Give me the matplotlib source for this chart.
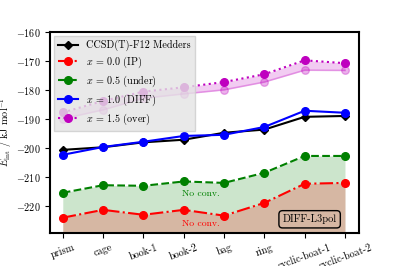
import numpy as np
import matplotlib
matplotlib.use('Agg')
import matplotlib.pyplot as plt

plt.rcParams['font.family'] = 'serif'
plt.rcParams['font.serif'] = ['cmr10']
plt.rcParams['mathtext.fontset'] = 'cm'
plt.rcParams['axes.formatter.use_mathtext'] = True

structures = ['prism', 'cage', 'book-1', 'book-2', 'bag', 'ring', 'cyclic-boat-1', 'cyclic-boat-2']
ref_medders = [-200.7, -199.8, -198.1, -197.2, -194.8, -193.7, -189.3, -189.0]
x_00 = [-224.1, -221.4, -223.1, -221.4, -223.4, -219.0, -212.4, -212.1]
x_05 = [-215.5, -212.9, -213.1, -211.6, -212.1, -208.6, -202.8, -202.8]
x_10 = [-202.4, -199.7, -197.9, -195.9, -195.5, -192.8, -187.2, -187.9]
x_15 = [-187.8, -183.8, -180.6, -179.1, -177.3, -174.6, -169.8, -170.8]
x_15_low = [-190.0, -186.9, -182.9, -181.4, -180.0, -177.3, -173.2, -173.3]

xs = np.arange(len(structures))
bottom = -232

fig, ax = plt.subplots(figsize=(3.99, 2.66), dpi=100)

ax.fill_between(xs, x_05, bottom, color='green', alpha=0.2, lw=0)
ax.fill_between(xs, x_00, bottom, color='red', alpha=0.2, lw=0)
ax.fill_between(xs, x_15_low, x_15, color='m', alpha=0.2, lw=0)

ax.plot(xs, ref_medders, 'k-D', ms=4.5, lw=1.5, label='CCSD(T)-F12 Medders', zorder=3)
ax.plot(xs, x_00, 'r-.o', ms=5.5, lw=1.5, label='$x$ = 0.0 (IP)', zorder=3)
ax.plot(xs, x_05, 'g--o', ms=5.5, lw=1.5, label='$x$ = 0.5 (under)', zorder=3)
ax.plot(xs, x_10, 'b-o', ms=5.5, lw=1.5, label='$x$ = 1.0 (DIFF)', zorder=4)
ax.plot(xs, x_15, 'm:o', ms=5.5, lw=1.5, label='$x$ = 1.5 (over)', zorder=3)
ax.plot(xs, x_15_low, '-o', color='m', alpha=0.3, ms=5.5, lw=1.2, zorder=2)

ax.text(3.43, -215.9, 'No conv.', color='green', fontsize=7, ha='center', va='center')
ax.text(3.43, -226.2, 'No conv.', color='red', fontsize=7, ha='center', va='center')

ax.text(0.84, 0.067, 'DIFF-L3pol', transform=ax.transAxes, fontsize=7.5, ha='center', va='center',
        bbox=dict(boxstyle='round,pad=0.35', facecolor='none', edgecolor='black', lw=1))

ax.set_xlim(-0.32, 7.35)
ax.set_ylim(-229.3, -160)
ax.set_yticks([-220, -210, -200, -190, -180, -170, -160])
ax.set_xticks(xs)
ax.set_xticklabels(structures, rotation=20, ha='center', fontsize=7.3)
ax.tick_params(axis='y', labelsize=7.3)
ax.set_ylabel(r'$E_{\rm int}$ / kJ mol$^{-1}$', fontsize=7.3, labelpad=1)

for s in ax.spines.values():
    s.set_linewidth(1.5)

leg = ax.legend(loc='upper left', fontsize=7.3, facecolor='#e4e4e4', edgecolor='#cccccc',
                framealpha=0.8, fancybox=False, handlelength=2, borderpad=0.4,
                labelspacing=0.35, borderaxespad=0.4)

fig.subplots_adjust(left=0.125, right=0.9, top=0.88, bottom=0.125)
fig.savefig('out.png', dpi=100)
